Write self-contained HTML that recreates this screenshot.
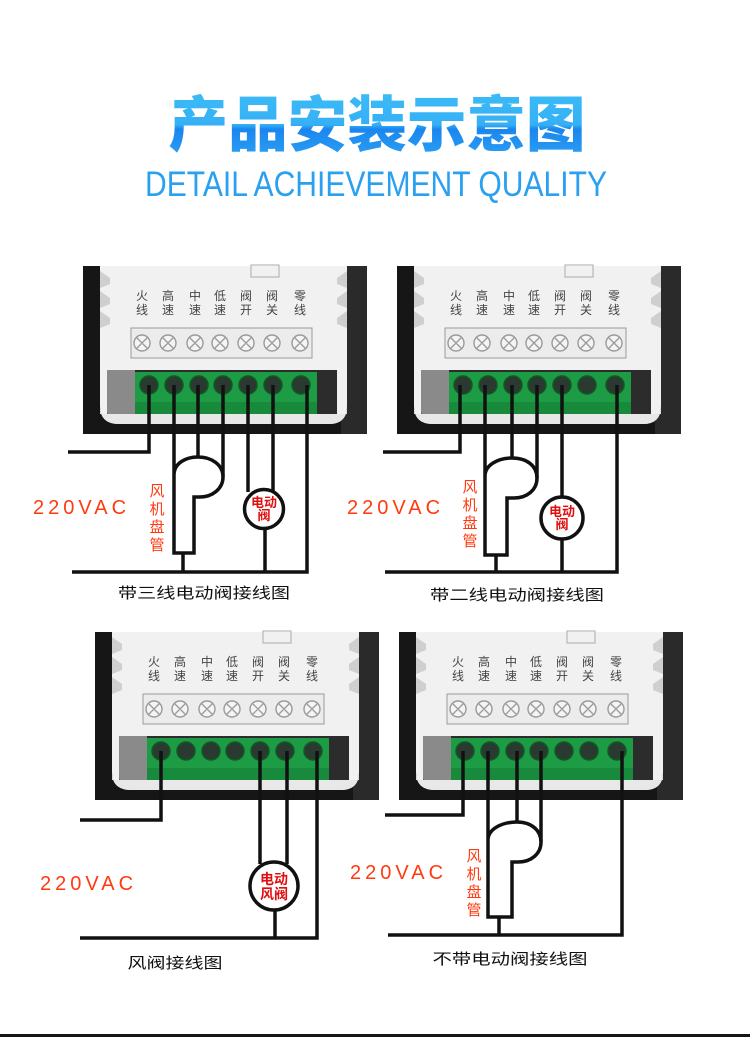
<!DOCTYPE html>
<html><head><meta charset="utf-8">
<style>
html,body{margin:0;padding:0;background:#fff;}
svg{display:block;}
.lbl{font-family:"Liberation Sans","Noto Sans CJK SC",sans-serif;font-size:12px;fill:#444;}
.cap{font-family:"Liberation Sans","Noto Sans CJK SC",sans-serif;font-size:15px;fill:#111;}
.vac{font-family:"Liberation Sans",sans-serif;font-size:20px;fill:#ff3a10;letter-spacing:4px;}
.red{font-family:"Liberation Sans","Noto Sans CJK SC",sans-serif;font-size:15px;fill:#ff3a10;}
.vt{font-family:"Liberation Sans","Noto Sans CJK SC",sans-serif;font-size:13px;font-weight:bold;fill:#e01010;}
.w{stroke:#111;stroke-width:3.5;fill:none;}
</style></head><body>
<svg width="750" height="1037" viewBox="0 0 750 1037" xmlns="http://www.w3.org/2000/svg">
<defs>
<linearGradient id="tg" x1="0" y1="0" x2="0" y2="1">
<stop offset="0" stop-color="#3ec0f8"/><stop offset="0.55" stop-color="#35b0f5"/><stop offset="0.6" stop-color="#1a86ee"/><stop offset="1" stop-color="#2ea6f5"/>
</linearGradient>
<g id="panel">
<rect x="0" y="0" width="284" height="168" fill="#161616"/>
<rect x="258" y="0" width="26" height="168" fill="#2a2a2a"/>
<path d="M17,0 H264 V140 Q264,158 246,158 H36 Q17,158 17,140 Z" fill="#f1f1f1"/>
<path d="M17,5 L27,12 L27,18 L17,22 Z M17,25 L27,32 L27,38 L17,42 Z M17,45 L27,52 L27,58 L17,62 Z" fill="#cfcfcf"/>
<path d="M264,5 L254,12 L254,18 L264,22 Z M264,25 L254,32 L254,38 L264,42 Z M264,45 L254,52 L254,58 L264,62 Z" fill="#cfcfcf"/>
<rect x="168" y="-1" width="28" height="12" fill="none" stroke="#aaa" stroke-width="1"/>
<g class="lbl" text-anchor="middle">
<text x="59" y="34">火</text><text x="59" y="48">线</text>
<text x="85" y="34">高</text><text x="85" y="48">速</text>
<text x="112" y="34">中</text><text x="112" y="48">速</text>
<text x="137" y="34">低</text><text x="137" y="48">速</text>
<text x="163" y="34">阀</text><text x="163" y="48">开</text>
<text x="189" y="34">阀</text><text x="189" y="48">关</text>
<text x="217" y="34">零</text><text x="217" y="48">线</text>
</g>
<rect x="48" y="62" width="181" height="30" fill="#ececec" stroke="#9a9a9a" stroke-width="1"/>
<g stroke="#9a9a9a" stroke-width="1.4" fill="#f4f4f4">
<circle cx="59" cy="77" r="8"/><circle cx="85" cy="77" r="8"/><circle cx="112" cy="77" r="8"/><circle cx="137" cy="77" r="8"/><circle cx="163" cy="77" r="8"/><circle cx="189" cy="77" r="8"/><circle cx="217" cy="77" r="8"/>
</g>
<g stroke="#9a9a9a" stroke-width="1.3">
<path d="M53,71 l12,12 M65,71 l-12,12 M79,71 l12,12 M91,71 l-12,12 M106,71 l12,12 M118,71 l-12,12 M131,71 l12,12 M143,71 l-12,12 M157,71 l12,12 M169,71 l-12,12 M183,71 l12,12 M195,71 l-12,12 M211,71 l12,12 M223,71 l-12,12"/>
</g>
<path d="M24,104 H254 V151 H24 Z" fill="#2c2c2c"/>
<path d="M24,104 H52 V151 H30 Q24,151 24,145 Z" fill="#8a8a8a"/>
<rect x="52" y="106" width="182" height="42" fill="#1e9b45"/>
<rect x="52" y="136" width="182" height="12" fill="#178a3b"/>
<g fill="#2a3a30" stroke="#0f5a25" stroke-width="1.5">
<circle cx="66" cy="119" r="9"/><circle cx="91" cy="119" r="9"/><circle cx="116" cy="119" r="9"/><circle cx="140" cy="119" r="9"/><circle cx="165" cy="119" r="9"/><circle cx="190" cy="119" r="9"/><circle cx="218" cy="119" r="9"/>
</g>
<path d="M17,148 H264 V140 Q264,158 246,158 H36 Q17,158 17,140 Z" fill="#e8e8e8"/>
</g>
</defs>

<text x="377" y="146" text-anchor="middle" font-family="'Noto Sans CJK SC',sans-serif" font-weight="900" font-size="60" fill="url(#tg)" textLength="417" lengthAdjust="spacingAndGlyphs">产品安装示意图</text>
<text x="376" y="196" text-anchor="middle" font-family="'Liberation Sans',sans-serif" font-size="35" fill="#2aa0f0" textLength="462" lengthAdjust="spacingAndGlyphs" style="font-weight:300">DETAIL ACHIEVEMENT QUALITY</text>

<!-- Panel 1 -->
<use href="#panel" x="83" y="266"/>
<path class="w" d="M68,452 H149 V385"/>
<path class="w" d="M174,385 V553 H194 V497 H200 C212,497 223,489 223,477 C223,465 212,457 198,457 C186,457 174,463 174,475"/>
<path class="w" d="M198,385 V457 M223,385 V477 M183,553 V572 M72,572 H307 V385"/>
<path class="w" d="M248,385 V492 M273,385 V492 M265,528 V572"/>
<circle cx="264" cy="509" r="19.5" fill="#fff" stroke="#111" stroke-width="3.5"/>
<text class="vt" x="264" y="507" text-anchor="middle">电动</text>
<text class="vt" x="264" y="520" text-anchor="middle">阀</text>
<text class="vac" x="33" y="514">220VAC</text>
<g class="red" text-anchor="middle"><text x="157" y="496">风</text><text x="157" y="514">机</text><text x="157" y="532">盘</text><text x="157" y="550">管</text></g>
<text class="cap" x="204" y="598" text-anchor="middle" textLength="172" lengthAdjust="spacingAndGlyphs">带三线电动阀接线图</text>

<!-- Panel 2 -->
<use href="#panel" x="397" y="266"/>
<path class="w" d="M383,452 H460 V385"/>
<path class="w" d="M485,385 V555 H507 V498 H514 C527,498 537,490 537,478 C537,466 527,458 512,458 C498,458 485,465 485,476"/>
<path class="w" d="M512,385 V458 M537,385 V478 M496,555 V572 M385,572 H617 V385"/>
<path class="w" d="M562,385 V497 M562,539 V572"/>
<circle cx="562" cy="518" r="21" fill="#fff" stroke="#111" stroke-width="3.5"/>
<text class="vt" x="562" y="516" text-anchor="middle">电动</text>
<text class="vt" x="562" y="529" text-anchor="middle">阀</text>
<text class="vac" x="347" y="514">220VAC</text>
<g class="red" text-anchor="middle"><text x="470" y="492">风</text><text x="470" y="510">机</text><text x="470" y="528">盘</text><text x="470" y="546">管</text></g>
<text class="cap" x="517" y="600" text-anchor="middle" textLength="174" lengthAdjust="spacingAndGlyphs">带二线电动阀接线图</text>

<!-- Panel 3 -->
<use href="#panel" x="95" y="632"/>
<path class="w" d="M80,820 H161 V751"/>
<path class="w" d="M260,751 V864 M287,751 V864 M275,910 V938 M80,938 H317 V751"/>
<circle cx="274" cy="886" r="24" fill="#fff" stroke="#111" stroke-width="3.5"/>
<text class="vt" x="274" y="884" text-anchor="middle" style="font-size:14px">电动</text>
<text class="vt" x="274" y="899" text-anchor="middle" style="font-size:14px">风阀</text>
<text class="vac" x="40" y="890">220VAC</text>
<text class="cap" x="175" y="968" text-anchor="middle" textLength="95" lengthAdjust="spacingAndGlyphs">风阀接线图</text>

<!-- Panel 4 -->
<use href="#panel" x="399" y="632"/>
<path class="w" d="M385,815 H463 V751"/>
<path class="w" d="M488,751 V917 H512 V862 H518 C531,862 541,854 541,842 C541,830 531,822 517,822 C502,822 488,829 488,840"/>
<path class="w" d="M517,751 V822 M541,751 V842 M499,917 V935 M388,935 H622 V751"/>
<text class="vac" x="350" y="879">220VAC</text>
<g class="red" text-anchor="middle"><text x="474" y="861">风</text><text x="474" y="879">机</text><text x="474" y="897">盘</text><text x="474" y="915">管</text></g>
<text class="cap" x="510" y="964" text-anchor="middle" textLength="155" lengthAdjust="spacingAndGlyphs">不带电动阀接线图</text>

<rect x="0" y="1034" width="750" height="3" fill="#161616"/>
</svg>
</body></html>
